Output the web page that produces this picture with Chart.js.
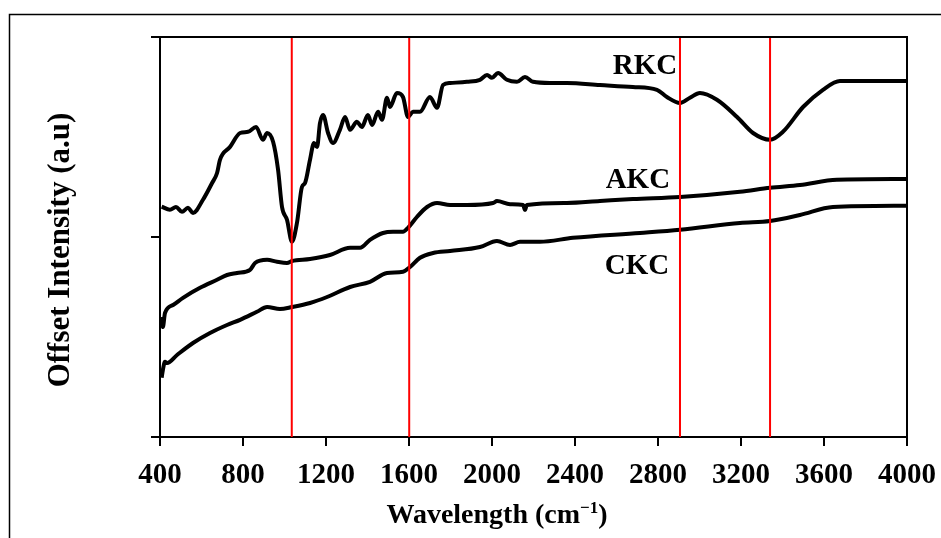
<!DOCTYPE html>
<html>
<head>
<meta charset="utf-8">
<title>FTIR spectra</title>
<script src="https://cdn.jsdelivr.net/npm/chart.js@4.4.1/dist/chart.umd.min.js"></script>
<style>
    html, body { margin: 0; padding: 0; background: #fff; }
    #wrap { width: 941px; height: 538px; position: relative; }
</style>
</head>
<body>
<div id="wrap"><canvas id="ftirChart" width="941" height="538"></canvas></div>
<script>
// wavenumber (cm-1), offset intensity (a.u.)
const rkcPoints = [
    [408, 57.6], [448, 56.8], [477, 57.5], [506, 56.3], [535, 57.3], [559, 56], [607, 59.3],
    [651, 63.5], [675, 66], [689, 69.3], [737, 72.5], [786, 76], [824, 76.3], [863, 77.5],
    [896, 74.3], [916, 76], [945, 73.8], [969, 66.8], [988, 57.5], [1012, 54.3], [1036, 48.8],
    [1060, 53.5], [1084, 62.5], [1099, 63.5], [1123, 69.3], [1142, 73.5], [1157, 72.5],
    [1171, 78.5], [1186, 80.5], [1210, 76], [1234, 73.5], [1267, 76.8], [1292, 80],
    [1316, 76.8], [1349, 78.8], [1373, 77.5], [1402, 80.5], [1422, 78], [1451, 81.3],
    [1470, 79.3], [1494, 84.8], [1508, 82.5], [1542, 86], [1571, 85], [1595, 80],
    [1619, 81.3], [1653, 81.3], [1701, 85], [1735, 82.3], [1764, 88], [1798, 88.5],
    [1879, 88.8], [1942, 89.3], [1976, 90.5], [2000, 89.8], [2029, 91], [2072, 89.3],
    [2120, 88.8], [2159, 90], [2198, 88.8], [2279, 88.5], [2361, 88.5], [2520, 88],
    [2679, 87.5], [2795, 86.8], [2843, 85], [2906, 83.5], [2954, 84.8], [3002, 86],
    [3084, 84.3], [3181, 80], [3258, 76], [3340, 74.3], [3402, 76.3], [3499, 82.5],
    [3595, 86.8], [3677, 89], [3800, 89], [4000, 89]
];
const akcPoints = [
    [408, 30], [414, 27.5], [424, 31], [463, 33], [511, 34.8], [593, 37.3], [675, 39.3],
    [723, 40.5], [771, 41], [834, 41.8], [858, 43.5], [916, 44.3], [964, 43.8], [1012, 43.5],
    [1036, 44], [1123, 44.5], [1219, 45.5], [1316, 47.3], [1364, 47.3], [1412, 49.3],
    [1475, 51], [1523, 51.3], [1571, 51.3], [1595, 52.3], [1638, 55], [1687, 57.5],
    [1735, 58.5], [1798, 58], [1879, 58], [2005, 58.5], [2024, 59], [2087, 58.2], [2150, 58],
    [2159, 56.8], [2168, 58], [2361, 58.5], [2520, 59], [2679, 59.5], [2906, 60], [3195, 61.3],
    [3340, 62.3], [3484, 63], [3662, 64.3], [4000, 64.5]
];
const ckcPoints = [
    [408, 14.8], [414, 16.8], [424, 18.8], [434, 18.5], [482, 20.5], [559, 23.5], [641, 26],
    [723, 28], [786, 29.3], [867, 31.3], [916, 32.5], [978, 32], [1036, 32.5], [1123, 33.5],
    [1205, 35], [1316, 37.5], [1412, 38.8], [1494, 41], [1571, 41.3], [1605, 42.5],
    [1653, 44.8], [1716, 46], [1798, 46.5], [1942, 47.5], [2024, 49], [2087, 48], [2135, 48.8],
    [2231, 48.8], [2390, 49.8], [2713, 51], [2906, 51.8], [3195, 53.5], [3340, 54],
    [3484, 55.5], [3643, 57.5], [4000, 57.8]
];
// marked bands (cm-1)
const bandLines = [1035, 1601, 2906, 3340];
// curve names and where they sit (wavenumber, intensity)
const curveNames = ['RKC', 'AKC', 'CKC'];
const curveNameAt = [[2737, 92.5], [2703, 64], [2699, 42.5]];

const X_TICKS = [400, 4000, 400];
const Y_TICKS = [0, 100, 50];

const serif = '"Times New Roman", "Liberation Serif", "DejaVu Serif", serif';

const toXY = pts => pts.map(p => ({ x: p[0], y: p[1] }));

const curve = pts => ({
    data: toXY(pts),
    showLine: true,
    borderColor: '#000',
    borderWidth: 4,
    pointRadius: 0,
    fill: false,
    cubicInterpolationMode: 'monotone',
    order: 2
});

const bandSets = bandLines.map(w => ({
    data: [{ x: w, y: Y_TICKS[0] }, { x: w, y: Y_TICKS[1] }],
    showLine: true,
    borderColor: '#ff0000',
    borderWidth: 2,
    pointRadius: 0,
    order: 1
}));

// outer frame, plot box, axis titles and curve names
const decorations = {
    id: 'decorations',
    beforeDraw(chart) {
        const ctx = chart.ctx;
        ctx.save();
        ctx.strokeStyle = '#000';
        ctx.lineWidth = 1.5;
        ctx.strokeRect(9.5, 14.5, 1000, 1000);
        ctx.restore();
    },
    afterDraw(chart) {
        const { ctx, chartArea: a, scales: { x, y } } = chart;
        ctx.save();
        ctx.strokeStyle = '#000';
        ctx.lineWidth = 2;
        ctx.beginPath();
        ctx.moveTo(a.left, a.top);
        ctx.lineTo(a.right, a.top);
        ctx.lineTo(a.right, a.bottom);
        ctx.stroke();

        ctx.fillStyle = '#000';
        ctx.font = 'bold 29px ' + serif;
        ctx.textAlign = 'center';
        ctx.textBaseline = 'middle';
        curveNames.forEach((name, i) => {
            const [w, v] = curveNameAt[i];
            ctx.fillText(name, x.getPixelForValue(w), y.getPixelForValue(v));
        });

        // x title with a small raised "-1"
        const big = 'bold 28px ' + serif, small = 'bold 17px ' + serif;
        const parts = [['Wavelength (cm', big, 0], ['\u22121', small, -10], [')', big, 0]];
        let total = 0;
        parts.forEach(p => { ctx.font = p[1]; total += ctx.measureText(p[0]).width; });
        let cx = 497 - total / 2;
        ctx.textAlign = 'left';
        ctx.textBaseline = 'alphabetic';
        parts.forEach(p => {
            ctx.font = p[1];
            ctx.fillText(p[0], cx, 523 + p[2]);
            cx += ctx.measureText(p[0]).width;
        });

        // y title
        ctx.translate(61, 250);
        ctx.rotate(-Math.PI / 2);
        ctx.font = 'bold 31px ' + serif;
        ctx.textAlign = 'center';
        ctx.textBaseline = 'middle';
        ctx.fillText('Offset Intensity (a.u)', 0, 0);
        ctx.restore();
    }
};

const axisCommon = {
    grid: { drawOnChartArea: false, drawTicks: true, tickLength: 9, color: '#000', lineWidth: 2 },
    border: { display: true, color: '#000', width: 2 }
};

new Chart(document.getElementById('ftirChart'), {
    type: 'scatter',
    data: {
        datasets: [...bandSets, curve(rkcPoints), curve(akcPoints), curve(ckcPoints)]
    },
    options: {
        responsive: false,
        animation: false,
        devicePixelRatio: 1,
        layout: { padding: { top: 37, right: 34, left: 0, bottom: 0 } },
        plugins: { legend: { display: false }, tooltip: { enabled: false } },
        scales: {
            x: {
                ...axisCommon,
                type: 'linear',
                min: X_TICKS[0],
                max: X_TICKS[1],
                ticks: {
                    stepSize: X_TICKS[2],
                    color: '#000',
                    padding: 12,
                    maxRotation: 0,
                    font: { family: serif, size: 29, weight: 'bold' },
                    callback: v => String(v)
                },
                title: { display: false },
                afterFit: s => {
                    s.height = 101;
                    s.paddingLeft = 0;
                    s.paddingRight = 0;
                }
            },
            y: {
                ...axisCommon,
                min: Y_TICKS[0],
                max: Y_TICKS[1],
                ticks: { stepSize: Y_TICKS[2], display: false },
                title: { display: false },
                afterFit: s => { s.width = 160; }
            }
        }
    },
    plugins: [decorations]
});
</script>
</body>
</html>
